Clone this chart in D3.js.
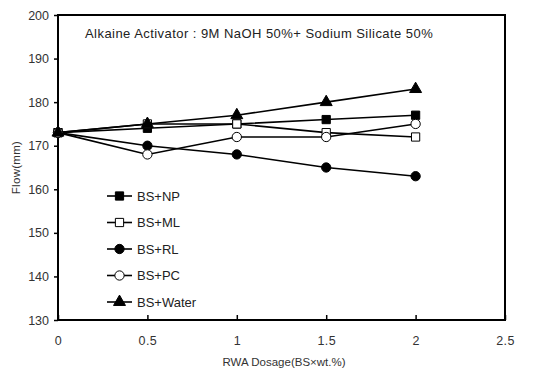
<!DOCTYPE html>
<html>
<head>
<meta charset="utf-8">
<script src="https://cdn.jsdelivr.net/npm/d3@7"></script>
<style>
  body { margin: 0; background: #fff; }
  svg { font-family: "Liberation Sans", Arial, sans-serif; }
</style>
</head>
<body>
<svg width="544" height="372"></svg>
<script>
const dosage = [0, 0.5, 1, 1.5, 2]
const seriesNames = ['BS+NP', 'BS+ML', 'BS+RL', 'BS+PC', 'BS+Water']
const npValues = [173, 174, 175, 176, 177]
const mlValues = [173, 175, 175, 173, 172]
const rlValues = [173, 170, 168, 165, 163]
const pcValues = [173, 168, 172, 172, 175]
const waterValues = [173, 175, 177, 180, 183]
const xTicks = [0, 0.5, 1, 1.5, 2, 2.5]
const yTicks = [130, 140, 150, 160, 170, 180, 190, 200]
const titleText = 'Alkaine Activator : 9M NaOH 50%+ Sodium Silicate 50%'

const margin = {top: 15, right: 39, bottom: 52, left: 58}
const width = 544
const height = 372

const svg = d3.select('svg')

const x = d3.scaleLinear().domain([0, 2.5]).range([margin.left, width - margin.right])
const y = d3.scaleLinear().domain([130, 200]).range([height - margin.bottom, margin.top])

// plot frame
svg.append('rect')
  .attr('x', x(0)).attr('y', y(200))
  .attr('width', x(2.5) - x(0)).attr('height', y(130) - y(200))
  .attr('fill', 'none').attr('stroke', '#000').attr('stroke-width', 2)

// x axis, ticks pointing inward
svg.append('g')
  .attr('transform', `translate(0,${y(130)})`)
  .call(d3.axisBottom(x).tickValues(xTicks).tickFormat(d3.format('')).tickSize(-5).tickPadding(16))
  .call(g => g.select('.domain').remove())
  .call(g => g.selectAll('line').attr('stroke-width', 1.5))
  .call(g => g.selectAll('text').attr('font-size', 12.5).attr('letter-spacing', 0.4)
    .attr('fill', '#333').attr('font-family', null))

// y axis, ticks outward
svg.append('g')
  .attr('transform', `translate(${x(0)},0)`)
  .call(d3.axisLeft(y).tickValues(yTicks).tickSize(4).tickPadding(5))
  .call(g => g.select('.domain').remove())
  .call(g => g.selectAll('line').attr('stroke-width', 1.5))
  .call(g => g.selectAll('text').attr('font-size', 12.5).attr('fill', '#333').attr('font-family', null))

svg.append('text')
  .attr('x', 284).attr('y', 366)
  .attr('text-anchor', 'middle').attr('font-size', 11.5).attr('fill', '#333')
  .text('RWA Dosage(BS×wt.%)')

svg.append('text')
  .attr('transform', `translate(20,${(y(130) + y(200)) / 2}) rotate(-90)`)
  .attr('text-anchor', 'middle').attr('font-size', 11.5).attr('fill', '#333')
  .attr('letter-spacing', 0.3)
  .text('Flow(mm)')

svg.append('text')
  .attr('x', 85).attr('y', 38)
  .attr('font-size', 13).attr('fill', '#222')
  .attr('letter-spacing', 0.45)
  .text(titleText)

const series = [
  {name: seriesNames[0], values: npValues, shape: d3.symbolSquare, fill: '#000'},
  {name: seriesNames[1], values: mlValues, shape: d3.symbolSquare, fill: '#fff'},
  {name: seriesNames[2], values: rlValues, shape: d3.symbolCircle, fill: '#000'},
  {name: seriesNames[3], values: pcValues, shape: d3.symbolCircle, fill: '#fff'},
  {name: seriesNames[4], values: waterValues, shape: d3.symbolTriangle, fill: '#000'}
]

const line = d3.line().x(d => x(d[0])).y(d => y(d[1]))
const symSize = s => s === d3.symbolTriangle ? 62 : 68

const plot = svg.append('g')
series.forEach(s => {
  const pts = dosage.map((d, i) => [d, s.values[i]])
  plot.append('path')
    .attr('d', line(pts))
    .attr('fill', 'none').attr('stroke', '#000').attr('stroke-width', 1.6)
})
series.forEach(s => {
  const pts = dosage.map((d, i) => [d, s.values[i]])
  plot.selectAll(null)
    .data(pts)
    .join('path')
    .attr('transform', d => `translate(${x(d[0])},${y(d[1])})`)
    .attr('d', d3.symbol(s.shape, symSize(s.shape)))
    .attr('fill', s.fill).attr('stroke', '#000').attr('stroke-width', 1)
})

// legend
const legend = svg.append('g')
series.forEach((s, i) => {
  const ly = 196 + i * 26.5
  legend.append('line')
    .attr('x1', 107).attr('x2', 132).attr('y1', ly).attr('y2', ly)
    .attr('stroke', '#000').attr('stroke-width', 1.6)
  legend.append('path')
    .attr('transform', `translate(119.5,${ly})`)
    .attr('d', d3.symbol(s.shape, symSize(s.shape)))
    .attr('fill', s.fill).attr('stroke', '#000').attr('stroke-width', 1)
  legend.append('text')
    .attr('x', 137).attr('y', ly + 4.5)
    .attr('font-size', 13).attr('fill', '#222')
    .text(s.name)
})
</script>
</body>
</html>
